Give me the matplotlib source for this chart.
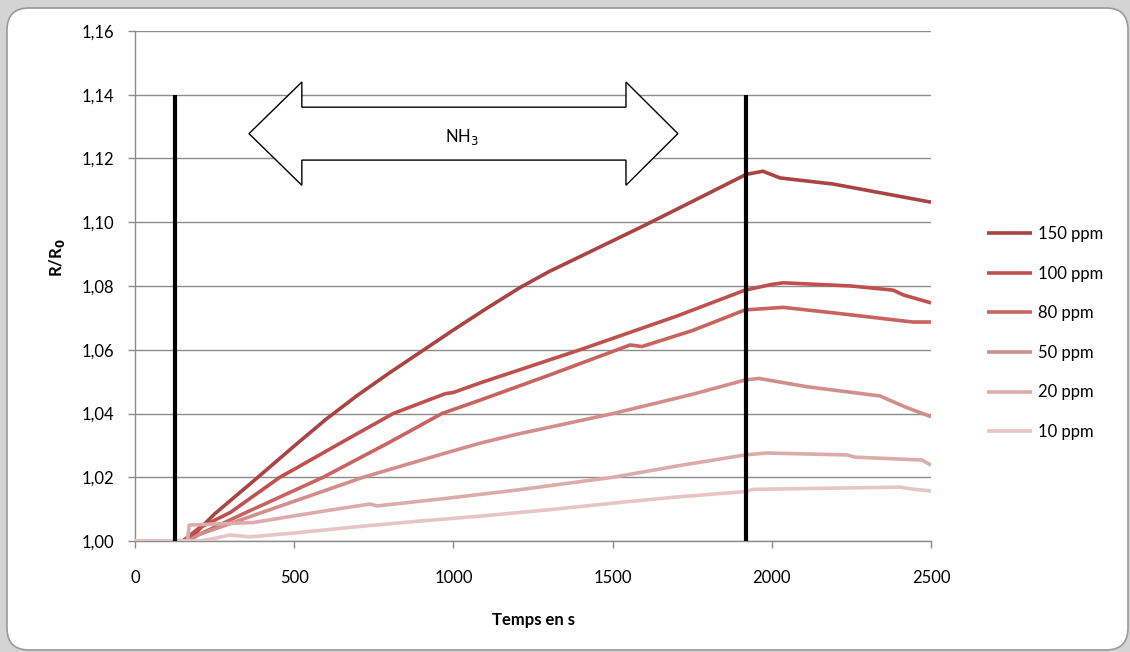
import matplotlib
matplotlib.use("Agg")
import matplotlib.pyplot as plt
from matplotlib.patches import FancyBboxPatch, Polygon
from matplotlib.transforms import IdentityTransform
from matplotlib.ticker import FuncFormatter

# ---------------- data ----------------
labels = ["150 ppm", "100 ppm", "80 ppm", "50 ppm", "20 ppm", "10 ppm"]
colors = ["#A94442", "#C0504D", "#C8635F", "#D38E8C", "#DCABAA", "#E6C5C4"]

t150 = [0, 150, 175, 250, 386, 500, 600, 700, 800, 900, 1000, 1100, 1209, 1300, 1445, 1600, 1750, 1919, 1972, 2026, 2192, 2500]
v150 = [1.000, 1.000, 1.001, 1.0085, 1.020, 1.0298, 1.0382, 1.0458, 1.0528, 1.0595, 1.0662, 1.0727, 1.0795, 1.0845, 1.0915, 1.099, 1.1065, 1.115, 1.116, 1.1139, 1.112, 1.1063]

t100 = [0, 150, 200, 300, 455, 500, 650, 811, 974, 1000, 1084, 1398, 1700, 1916, 2000, 2036, 2250, 2381, 2413, 2500]
v100 = [1.000, 1.000, 1.004, 1.009, 1.020, 1.0225, 1.031, 1.040, 1.0462, 1.0466, 1.0496, 1.060, 1.0705, 1.0787, 1.0805, 1.081, 1.080, 1.0787, 1.0772, 1.0747]

t80 = [0, 160, 200, 350, 591, 800, 964, 1084, 1300, 1555, 1592, 1750, 1916, 2036, 2200, 2443, 2500]
v80 = [1.000, 1.000, 1.002, 1.009, 1.020, 1.031, 1.040, 1.0442, 1.052, 1.0615, 1.061, 1.066, 1.0725, 1.0733, 1.0715, 1.0687, 1.0687]

t50 = [0, 170, 200, 400, 717, 989, 1084, 1200, 1502, 1750, 1916, 1960, 2110, 2340, 2420, 2500]
v50 = [1.000, 1.000, 1.002, 1.009, 1.020, 1.028, 1.0307, 1.0335, 1.040, 1.046, 1.0505, 1.051, 1.0484, 1.0455, 1.042, 1.039]

t20 = [0, 165, 170, 371, 600, 738, 760, 989, 1200, 1502, 1700, 1916, 1985, 2236, 2261, 2472, 2500]
v20 = [1.000, 1.000, 1.005, 1.0058, 1.0095, 1.0116, 1.011, 1.0135, 1.016, 1.020, 1.0235, 1.027, 1.0276, 1.027, 1.0263, 1.0254, 1.0238]

t10 = [0, 200, 250, 298, 361, 500, 700, 900, 1084, 1300, 1533, 1700, 1916, 1942, 2403, 2441, 2500]
v10 = [1.000, 1.000, 1.0008, 1.0019, 1.0013, 1.0025, 1.0045, 1.0063, 1.0078, 1.0098, 1.0122, 1.0138, 1.0155, 1.0162, 1.0169, 1.0163, 1.0157]

series_t = [t150, t100, t80, t50, t20, t10]
series_v = [v150, v100, v80, v50, v20, v10]

markers_t = [125, 1919]          # gas on / off
marker_range = (1.00, 1.14)
gas_label = "NH$_3$"

xticks = [0, 500, 1000, 1500, 2000, 2500]
yticks = [1.00, 1.02, 1.04, 1.06, 1.08, 1.10, 1.12, 1.14, 1.16]

# ---------------- figure ----------------
W, H = 1130, 652
fig = plt.figure(figsize=(W / 100, H / 100), dpi=100)
fig.patch.set_facecolor("#D4D4D4")
plt.rcParams["font.family"] = ["Lato", "DejaVu Sans"]

box = FancyBboxPatch((7, 2), 1121, 642, boxstyle="round,pad=0,rounding_size=22",
                     transform=IdentityTransform(), facecolor="white",
                     edgecolor="#9A9A9A", linewidth=1.2, zorder=-10)
fig.patches.append(box)

ax = fig.add_axes([135 / W, 1 - 541 / H, (931 - 135) / W, (541 - 31) / H])
ax.set_zorder(1)
ax.set_facecolor("none")

for tt, vv, c, lab in zip(series_t, series_v, colors, labels):
    ax.plot(tt, vv, color=c, lw=2.6, label=lab, solid_capstyle="butt",
            solid_joinstyle="round", zorder=3)

for m in markers_t:
    ax.plot([m, m], marker_range, color="black", lw=3.0, zorder=4, solid_capstyle="butt")

# double arrow annotation
xa0, xb0, xb1, xa1 = 358, 524, 1542, 1705
yc, hs, hh = 1.1278, 0.0083, 0.0162
arrow = Polygon([(xa0, yc), (xb0, yc + hh), (xb0, yc + hs), (xb1, yc + hs), (xb1, yc + hh),
                 (xa1, yc), (xb1, yc - hh), (xb1, yc - hs), (xb0, yc - hs), (xb0, yc - hh)],
                closed=True, facecolor="white", edgecolor="black", lw=1.0, zorder=5)
ax.add_patch(arrow)
ax.text(1028, yc - 0.0012, gas_label, ha="center", va="center", fontsize=12, zorder=6)

ax.set_xlim(0, 2500)
ax.set_ylim(1.00, 1.16)
ax.set_xticks(xticks)
ax.set_yticks(yticks)
ax.yaxis.set_major_formatter(FuncFormatter(lambda v, p: f"{v:.2f}".replace(".", ",")))
ax.grid(axis="y", color="#8C8C8C", lw=1.0, zorder=1)
ax.set_axisbelow(True)
for s in ["top", "right"]:
    ax.spines[s].set_visible(False)
for s in ["left", "bottom"]:
    ax.spines[s].set_color("#8C8C8C")
    ax.spines[s].set_linewidth(1.0)
ax.tick_params(axis="both", colors="#8C8C8C", labelcolor="black", labelsize=12, length=5, width=1.0)
ax.tick_params(axis="x", pad=16)
ax.tick_params(axis="y", pad=10)

fig.text(533 / W, 1 - 620 / H, "Temps en s", ha="center", va="center", fontsize=12, fontweight="bold")
fig.text(57 / W, 1 - 258 / H, "R/R$_\\mathbf{0}$", ha="center", va="center", fontsize=12,
         fontweight="bold", rotation=90)

fig.legend(loc="center left", bbox_to_anchor=(987 / W, 1 - 333 / H), frameon=False,
           fontsize=12, handlelength=2.7, handletextpad=0.35, labelspacing=1.42,
           borderpad=0, borderaxespad=0)

fig.savefig("out.png", dpi=100, facecolor=fig.get_facecolor())
